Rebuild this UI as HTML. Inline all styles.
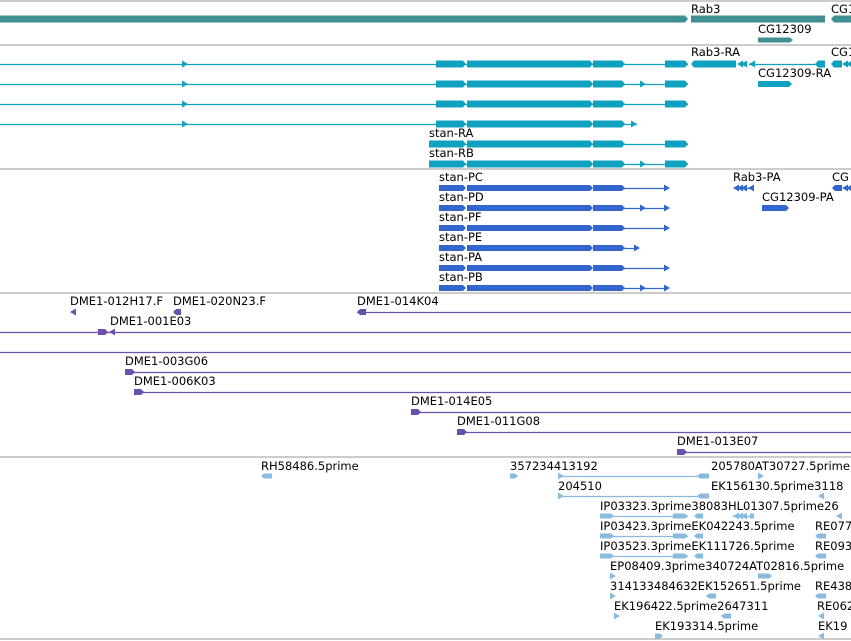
<!DOCTYPE html>
<html><head><meta charset="utf-8"><style>
html,body{margin:0;padding:0;background:#fff;}
svg{display:block;}
text{font-family:"DejaVu Sans","Liberation Sans",sans-serif;font-size:11.5px;fill:#000;}
</style></head><body>
<svg id="gb" width="851" height="641"></svg>
<script>
const svg=document.getElementById('gb');
const NS='http://www.w3.org/2000/svg';
const GENE='#3f8f93',TX='#10a0c0',PR='#3366cc',BAC='#6a50aa',EST='#88bbdd',SEP='#bbbbbb';
function mk(tag,name){const el=document.createElementNS(NS,tag);


svg.appendChild(el);return el;}
function sep(y){const e=mk('line','track-separator');e.setAttribute('x1',0);e.setAttribute('x2',851);e.setAttribute('y1',y);e.setAttribute('y2',y);e.setAttribute('stroke',SEP);e.setAttribute('stroke-width',1.5);}
function ln(x1,x2,y,c){const e=mk('line','intron-line');e.setAttribute('x1',x1);e.setAttribute('x2',x2);e.setAttribute('y1',y+0.5);e.setAttribute('y2',y+0.5);e.setAttribute('stroke',c);e.setAttribute('stroke-width',1.2);}
function bar(x1,x2,y,h,c,dir){const e=mk('polygon','feature-block');const t=h/2,a=3;let p;
if(dir>0)p=[[x1,y-t],[x2-a,y-t],[x2,y],[x2-a,y+t],[x1,y+t]];
else if(dir<0)p=[[x1+a,y-t],[x2,y-t],[x2,y+t],[x1+a,y+t],[x1,y]];
else p=[[x1,y-t],[x2,y-t],[x2,y+t],[x1,y+t]];
e.setAttribute('points',p.map(q=>q.join(',')).join(' '));e.setAttribute('fill',c);}
function tri(x,y,dir,c){const e=mk('polygon','strand-arrow');const p=dir>0?[[x,y-3.5],[x+6,y],[x,y+3.5]]:[[x+6,y-3.5],[x,y],[x+6,y+3.5]];
e.setAttribute('points',p.map(q=>q.join(',')).join(' '));e.setAttribute('fill',c);}
function tx(x,y,s){const e=mk('text','feature-label');e.setAttribute('x',x);e.setAttribute('y',y);e.textContent=s;}

[1,45,169,293,457,639].forEach(sep);

// Gene track
bar(0,688,19,7,GENE,1);bar(691,825,19,7,GENE,0);bar(831,851,19,7,GENE,-1);
tx(691,13,'Rab3');tx(831,13,'CG1');tx(758,33,'CG12309');bar(758,793,40,5,GENE,1);

// Transcript track
const ex=[[436,466],[467,593],[593,625]];
function stanTx(y,start,end,opts){
 if(start===0)ln(0,end,y,TX);else ln(start,end,y,TX);
 if(start===0)tri(182,y,1,TX);
 ex.forEach((e,i)=>bar(i===0?start===0?e[0]:start:e[0],e[1],y,7,TX,1));
 if(opts.mid)tri(640,y,1,TX);
 if(opts.last)bar(665,688,y,7,TX,1);else tri(631,y,1,TX);
}
stanTx(64,0,688,{last:1});stanTx(84,0,688,{mid:1,last:1});stanTx(104,0,688,{last:1});stanTx(124,0,637,{});
tx(429,137,'stan-RA');stanTx(144,429,688,{last:1});
tx(429,157,'stan-RB');stanTx(164,429,688,{mid:1,last:1});
tx(691,56,'Rab3-RA');bar(691,736,64,7,TX,-1);tri(737,64,-1,TX);tri(741,64,-1,TX);tri(749,64,-1,TX);ln(749,825,64,TX);bar(815,825,64,7,TX,-1);
tx(831,56,'CG1');bar(831,842,64,7,TX,-1);tri(842,64,-1,TX);tri(846,64,-1,TX);
tx(758,77,'CG12309-RA');bar(758,792,84,6,TX,1);

// Protein track
const pl=['stan-PC','stan-PD','stan-PF','stan-PE','stan-PA','stan-PB'];
const pe=[670,670,670,640,670,670];const pm=[0,1,0,0,0,1];
pl.forEach((n,i)=>{const y=188+i*20;tx(439,y-7,n);ln(624,pe[i]-2,y,PR);tri(pe[i]-6,y,1,PR);
 if(pm[i])tri(640,y,1,PR);bar(439,466,y,6,PR,1);bar(467,593,y,6,PR,1);bar(593,625,y,6,PR,1);});
tx(733,181,'Rab3-PA');tri(733,188,-1,PR);tri(737,188,-1,PR);tri(741,188,-1,PR);ln(741,754,188,PR);tri(748,188,-1,PR);
tx(832,181,'CG');bar(832,842,188,6,PR,-1);tri(842,188,-1,PR);tri(846,188,-1,PR);
tx(762,201,'CG12309-PA');bar(762,789,208,6,PR,1);

// BAC track
tx(70,305,'DME1-012H17.F');tri(70,312,-1,BAC);
tx(173,305,'DME1-020N23.F');bar(173,181,312,6,BAC,-1);
tx(357,305,'DME1-014K04');ln(357,851,312,BAC);bar(357,366,312,6,BAC,-1);
tx(110,325,'DME1-001E03');ln(0,851,332,BAC);bar(98,108,332,6,BAC,1);tri(109,332,-1,BAC);
ln(0,851,352,BAC);
const bacs=[['DME1-003G06',125,372],['DME1-006K03',134,392],['DME1-014E05',411,412],['DME1-011G08',457,432],['DME1-013E07',677,452]];
bacs.forEach(b=>{tx(b[1],b[2]-7,b[0]);ln(b[1],851,b[2],BAC);bar(b[1],b[1]+10,b[2],6,BAC,1);});

// EST track
tx(261,470,'RH58486.5prime');bar(261,272,476,5,EST,-1);
tx(510,470,'357234413192');bar(510,518,476,5,EST,1);
ln(558,709,476,EST);tri(558,476,1,EST);bar(697,709,476,5,EST,-1);
tx(711,470,'205780AT30727.5prime');tri(758,476,1,EST);
tx(558,490,'204510');ln(558,709,496,EST);tri(558,496,1,EST);bar(697,709,496,5,EST,-1);
tx(711,490,'EK156130.5prime3118');tri(818,496,-1,EST);
tx(600,530-20,'IP03323.3prime38083HL01307.5prime26');
ln(600,688,516,EST);bar(600,614,516,5,EST,1);bar(673,688,516,5,EST,1);bar(694,703,516,5,EST,-1);ln(733,754,516,EST);tri(733,516,-1,EST);tri(737,516,-1,EST);tri(741,516,-1,EST);bar(750,754,516,5,EST,0);tri(836,516,-1,EST);
tx(600,530,'IP03423.3primeEK042243.5prime');tx(815,530,'RE077');ln(600,688,536,EST);bar(600,614,536,5,EST,1);bar(673,688,536,5,EST,1);bar(694,703,536,5,EST,-1);bar(815,826,536,5,EST,-1);
tx(600,550,'IP03523.3primeEK111726.5prime');tx(815,550,'RE093');ln(600,688,556,EST);bar(600,614,556,5,EST,1);bar(673,688,556,5,EST,1);bar(694,703,556,5,EST,-1);bar(815,826,556,5,EST,-1);
tx(610,570,'EP08409.3prime340724AT02816.5prime');tri(610,576,1,EST);bar(758,772,576,5,EST,1);
tx(610,590,'314133484632EK152651.5prime');tx(815,590,'RE438');tri(610,596,1,EST);bar(706,716,596,5,EST,-1);bar(815,826,596,5,EST,-1);
tx(614,610,'EK196422.5prime2647311');tx(817,610,'RE062');tri(614,616,1,EST);bar(721,731,616,5,EST,-1);tri(818,616,-1,EST);
tx(655,630,'EK193314.5prime');tx(818,630,'EK19');bar(655,663,636,5,EST,1);tri(818,636,-1,EST);
</script>
</body></html>
